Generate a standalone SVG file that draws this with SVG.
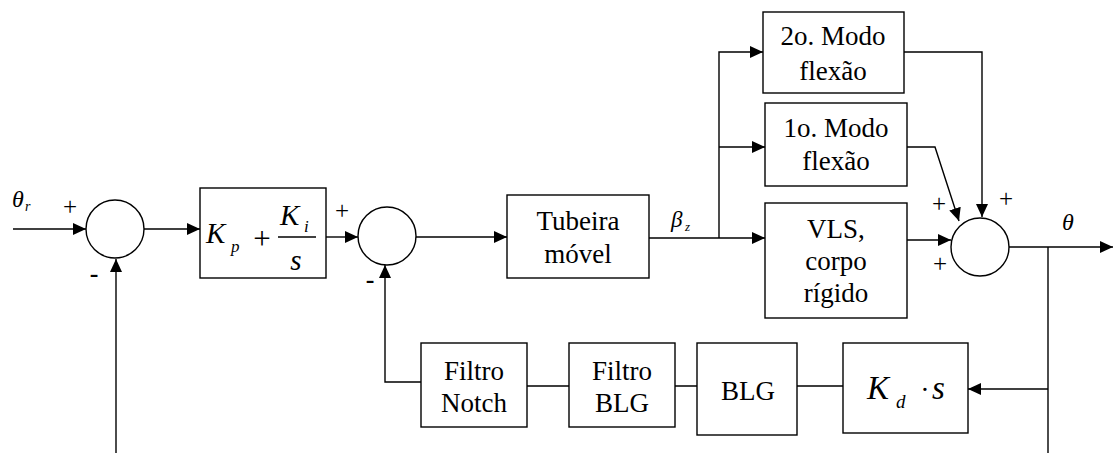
<svg xmlns="http://www.w3.org/2000/svg" width="1114" height="453" viewBox="0 0 1114 453">
<style>
.b{fill:#fff;stroke:#000;stroke-width:1.4}
.c{fill:none;stroke:#000;stroke-width:1.4}
text{fill:#000}
.m{text-anchor:middle}
.i{font-style:italic}
.p{font-size:25px;text-anchor:middle}
.n{font-size:26px;font-weight:bold;text-anchor:middle}
.l{font-size:27px;text-anchor:middle}
</style>
<defs>
<marker id="a" markerUnits="userSpaceOnUse" markerWidth="14" markerHeight="13" refX="13" refY="6" orient="auto">
<path d="M0,0 L13,6 L0,12 z" fill="#000"/>
</marker>
</defs>
<rect width="1114" height="453" fill="#fff"/>
<g id="connectors" class="c" marker-end="url(#a)">
<path d="M13,229 H86"/>
<path d="M144,229 H200"/>
<path d="M116,453 V259"/>
<path d="M326,237 H358"/>
<path d="M416,237 H507"/>
<path d="M649,238 H765"/>
<path d="M719,238 V52 H763"/>
<path d="M719,147 H765"/>
<path d="M904,52 H982 V217"/>
<path d="M907,147 H935 L959,221"/>
<path d="M907,240 H951"/>
<path d="M1009,247 H1113"/>
<path d="M1048,247 V453" marker-end="none"/>
<path d="M1048,389 H968"/>
<path d="M843,386 H797 M697,386 H675 M569,386 H527" marker-end="none"/>
<path d="M421,382 H385 V265"/>
</g>
<g font-family="'Liberation Serif', 'DejaVu Serif', 'Times New Roman', serif">
<g id="sum1"><circle class="b" cx="115" cy="229" r="29"/>
<text class="p" x="70" y="215">+</text>
<text class="n" x="94" y="282">-</text></g>
<g id="input"><text class="i" x="12" y="207" font-size="24">θ</text><text class="i" x="25" y="211" font-size="14">r</text></g>
<g id="pi"><rect class="b" x="200" y="188" width="126" height="90"/>
<text class="i" x="206" y="243" font-size="29">K</text>
<text class="i" x="231" y="252" font-size="17">p</text>
<text x="262" y="249" font-size="31" text-anchor="middle">+</text>
<text class="i" x="280" y="225" font-size="29">K</text>
<text class="i" x="304" y="232" font-size="17">i</text>
<line class="c" x1="278" y1="237" x2="316" y2="237"/>
<text class="i" x="296" y="270" font-size="29" text-anchor="middle">s</text></g>
<g id="sum2"><circle class="b" cx="387" cy="236" r="29"/>
<text class="p" x="342" y="219">+</text>
<text class="n" x="370" y="288">-</text></g>
<g id="tubeira"><rect class="b" x="507" y="195" width="142" height="83"/>
<text class="l" x="578" y="230">Tubeira</text>
<text class="l" x="578" y="263">móvel</text></g>
<g id="beta"><text class="i" x="671" y="227" font-size="23">β</text><text class="i" x="685" y="231" font-size="13">z</text></g>
<g id="modo2"><rect class="b" x="763" y="12" width="141" height="81"/>
<text class="l" x="833" y="45">2o. Modo</text>
<text class="l" x="833" y="80">flexão</text></g>
<g id="modo1"><rect class="b" x="765" y="103" width="142" height="83"/>
<text class="l" x="836" y="137">1o. Modo</text>
<text class="l" x="836" y="170">flexão</text></g>
<g id="vls"><rect class="b" x="765" y="203" width="142" height="115"/>
<text class="l" x="836" y="238">VLS,</text>
<text class="l" x="836" y="270">corpo</text>
<text class="l" x="836" y="302">rígido</text></g>
<g id="sum3"><circle class="b" cx="980" cy="247" r="29"/>
<text class="p" x="939" y="212">+</text>
<text class="p" x="1006" y="207">+</text>
<text class="p" x="940" y="272">+</text></g>
<g id="theta"><text class="i" x="1062" y="230" font-size="24">θ</text></g>
<g id="notch"><rect class="b" x="421" y="343" width="106" height="84"/>
<text class="l" x="474" y="380">Filtro</text>
<text class="l" x="474" y="412">Notch</text></g>
<g id="filtroblg"><rect class="b" x="569" y="343" width="106" height="84"/>
<text class="l" x="622" y="380">Filtro</text>
<text class="l" x="622" y="412">BLG</text></g>
<g id="blg"><rect class="b" x="697" y="343" width="100" height="92" stroke-width="2"/>
<text class="l" x="748" y="400">BLG</text></g>
<g id="kd"><rect class="b" x="843" y="343" width="125" height="90"/>
<text class="i" x="867" y="399" font-size="33">K</text>
<text class="i" x="896" y="408" font-size="19">d</text>
<text x="925" y="399" font-size="28" text-anchor="middle">·</text>
<text class="i" x="932" y="399" font-size="33">s</text></g>
</g>
</svg>
